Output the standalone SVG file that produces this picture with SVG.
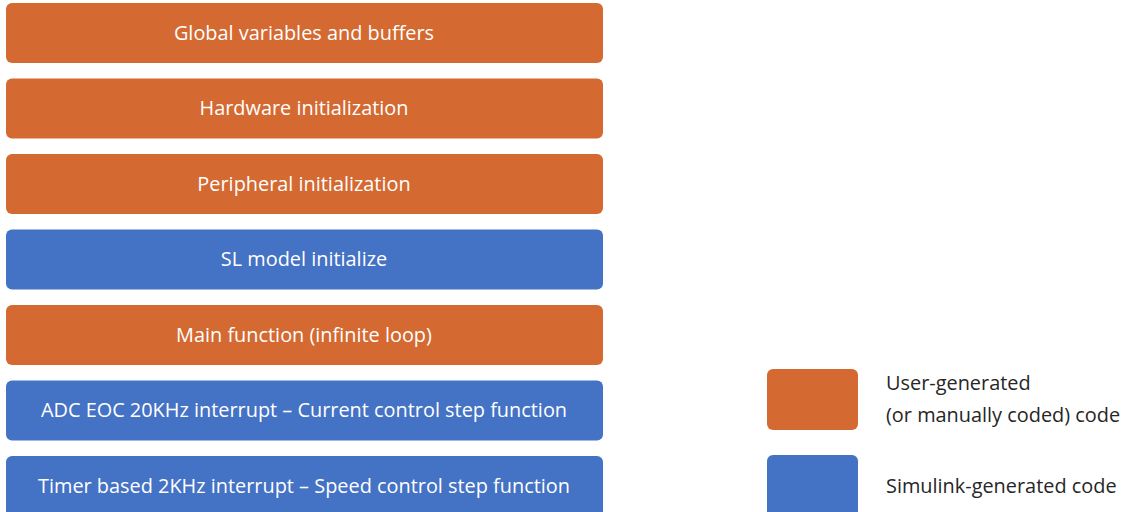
<svg xmlns="http://www.w3.org/2000/svg" width="1124" height="512" viewBox="0 0 1124 512">
<style>
.u{fill:#D46A31;}
.s{fill:#4472C4;}
.t{font-family:"Open Sans","Noto Sans",sans-serif;font-size:19.9px;fill:#FFFFFF;text-anchor:middle;dominant-baseline:central;}
.l{font-family:"Open Sans","Noto Sans",sans-serif;font-size:19.9px;fill:#262626;}
</style>
<rect width="1124" height="512" fill="#FFFFFF"/>
<g id="n1"><rect class="u" x="6" y="3" width="597" height="60" rx="6"/><text class="t" x="304" y="32">Global variables and buffers</text></g>
<g id="n2"><rect class="u" x="6" y="78.5" width="597" height="60" rx="6"/><text class="t" x="304" y="107.5">Hardware initialization</text></g>
<g id="n3"><rect class="u" x="6" y="154" width="597" height="60" rx="6"/><text class="t" x="304" y="183">Peripheral initialization</text></g>
<g id="n4"><rect class="s" x="6" y="229.5" width="597" height="60" rx="6"/><text class="t" x="304" y="258.5">SL model initialize</text></g>
<g id="n5"><rect class="u" x="6" y="305" width="597" height="60" rx="6"/><text class="t" x="304" y="334">Main function (infinite loop)</text></g>
<g id="n6"><rect class="s" x="6" y="380.5" width="597" height="60" rx="6"/><text class="t" x="304" y="409.5">ADC EOC 20KHz interrupt – Current control step function</text></g>
<g id="n7"><rect class="s" x="6" y="456" width="597" height="66" rx="6"/><text class="t" x="304" y="485">Timer based 2KHz interrupt – Speed control step function</text></g>
<g id="connectors"></g>
<g id="legend-user"><rect class="u" x="767" y="369" width="91" height="61" rx="6"/><text class="l" x="886" y="390">User-generated</text><text class="l" x="886" y="422">(or manually coded) code</text></g>
<g id="legend-sl"><rect class="s" x="767" y="455" width="91" height="66" rx="6"/><text class="l" x="886" y="493">Simulink-generated code</text></g>
</svg>
